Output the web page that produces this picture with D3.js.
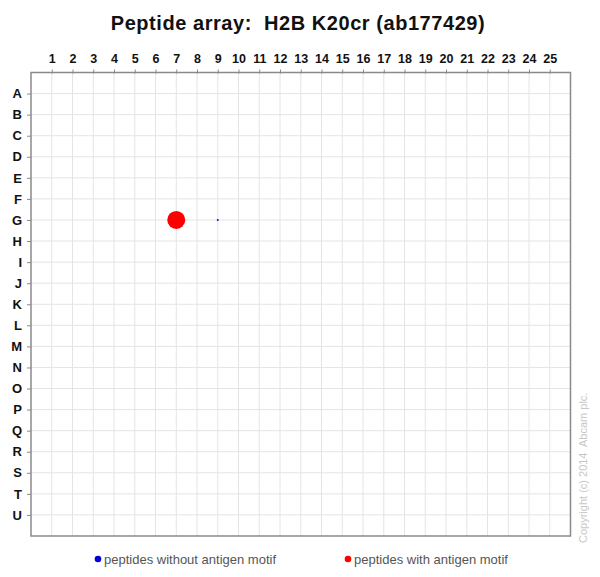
<!DOCTYPE html>
<html>
<head>
<meta charset="utf-8">
<script src="https://cdn.jsdelivr.net/npm/d3@7"></script>
<style>
  body { margin: 0; background: #fff; }
  svg { display: block; font-family: "Liberation Sans", Arial, sans-serif; }
</style>
</head>
<body>
<svg id="chart"></svg>
<script>
const columns = d3.range(1, 26);
const rows = ["A","B","C","D","E","F","G","H","I","J","K","L","M","N","O","P","Q","R","S","T","U"];

// spots: row, column, relative signal
const spotRows = ["G", "G"];
const spotCols = [7, 9];
const spotSignal = [1.0, 0.012];
const spotMotif = [true, false];

const legendLabels = ["peptides without antigen motif", "peptides with antigen motif"];

const width = 600;
const height = 577;
const margin = { top: 72.5, right: 29.5, bottom: 41, left: 31 };

const svg = d3.select('#chart')
              .attr('width', width)
              .attr('height', height);

const xScale = d3.scaleLinear()
                 .domain([0, columns.length + 1])
                 .range([margin.left, width - margin.right]);

const yScale = d3.scaleLinear()
                 .domain([0, rows.length + 1])
                 .range([margin.top, height - margin.bottom]);

const rowPos = r => yScale(rows.indexOf(r) + 1);

const rScale = d3.scaleSqrt().domain([0, 1]).range([0, 9]);

const colors = { with: "#ff0000", without: "#1010e0" };

// grid
const grid = svg.append('g').attr('stroke', '#e4e4e4').attr('stroke-width', 1);
columns.forEach(c => {
    grid.append('line')
        .attr('x1', xScale(c)).attr('x2', xScale(c))
        .attr('y1', yScale(0)).attr('y2', yScale(rows.length + 1));
});
rows.forEach((r, i) => {
    grid.append('line')
        .attr('x1', xScale(0)).attr('x2', xScale(columns.length + 1))
        .attr('y1', yScale(i + 1)).attr('y2', yScale(i + 1));
});

// frame
svg.append('rect')
   .attr('x', xScale(0))
   .attr('y', yScale(0))
   .attr('width', xScale(columns.length + 1) - xScale(0))
   .attr('height', yScale(rows.length + 1) - yScale(0))
   .attr('fill', 'none')
   .attr('stroke', '#8a8a8a')
   .attr('stroke-width', 1.5);

// top axis
const xAxis = svg.append('g')
    .attr('transform', `translate(0, ${yScale(0)})`)
    .call(d3.axisTop(xScale).tickValues(columns).tickSize(3).tickPadding(7));
xAxis.select('.domain').remove();
xAxis.selectAll('line').attr('stroke', '#8a8a8a').attr('y2', -3).attr('y1', 1);
xAxis.selectAll('text')
     .style('font-size', '12.5px')
     .style('font-weight', 'bold')
     .attr('fill', '#111');

// left axis
const yAxis = svg.append('g')
    .attr('transform', `translate(${xScale(0)}, 0)`)
    .call(d3.axisLeft(yScale).tickValues(d3.range(1, rows.length + 1))
                             .tickFormat(i => rows[i - 1]).tickSize(4).tickPadding(5));
yAxis.select('.domain').remove();
yAxis.selectAll('line').attr('stroke', '#8a8a8a');
yAxis.selectAll('text')
     .style('font-size', '13px')
     .style('font-weight', 'bold')
     .attr('fill', '#111');

// spots
svg.selectAll('circle.spot')
   .data(spotRows.map((r, i) => ({ row: r, col: spotCols[i], v: spotSignal[i], motif: spotMotif[i] })))
   .enter()
   .append('circle')
   .attr('class', 'spot')
   .attr('cx', d => xScale(d.col))
   .attr('cy', d => rowPos(d.row))
   .attr('r', d => rScale(d.v))
   .attr('fill', d => d.motif ? colors.with : colors.without);

// title
svg.append('text')
   .attr('x', 298)
   .attr('y', 30)
   .attr('text-anchor', 'middle')
   .style('font-size', '20px')
   .style('font-weight', 'bold')
   .style('letter-spacing', '0.55px')
   .attr('fill', '#111')
   .attr('xml:space', 'preserve')
   .text('Peptide array:  H2B K20cr (ab177429)');

// legend
const legendX = [98, 348];
legendLabels.forEach((label, i) => {
    svg.append('circle')
       .attr('cx', legendX[i])
       .attr('cy', 559)
       .attr('r', 3.3)
       .attr('fill', i === 0 ? '#0000e0' : '#ff0000');
    svg.append('text')
       .attr('x', legendX[i] + 6)
       .attr('y', 563.5)
       .style('font-size', '13px')
       .attr('fill', '#555')
       .text(label);
});

// copyright
svg.append('text')
   .attr('transform', 'translate(587, 543) rotate(-90)')
   .style('font-size', '11px')
   .attr('fill', '#c8c8c8')
   .attr('xml:space', 'preserve')
   .text('Copyright (c) 2014  Abcam plc.');
</script>
</body>
</html>
